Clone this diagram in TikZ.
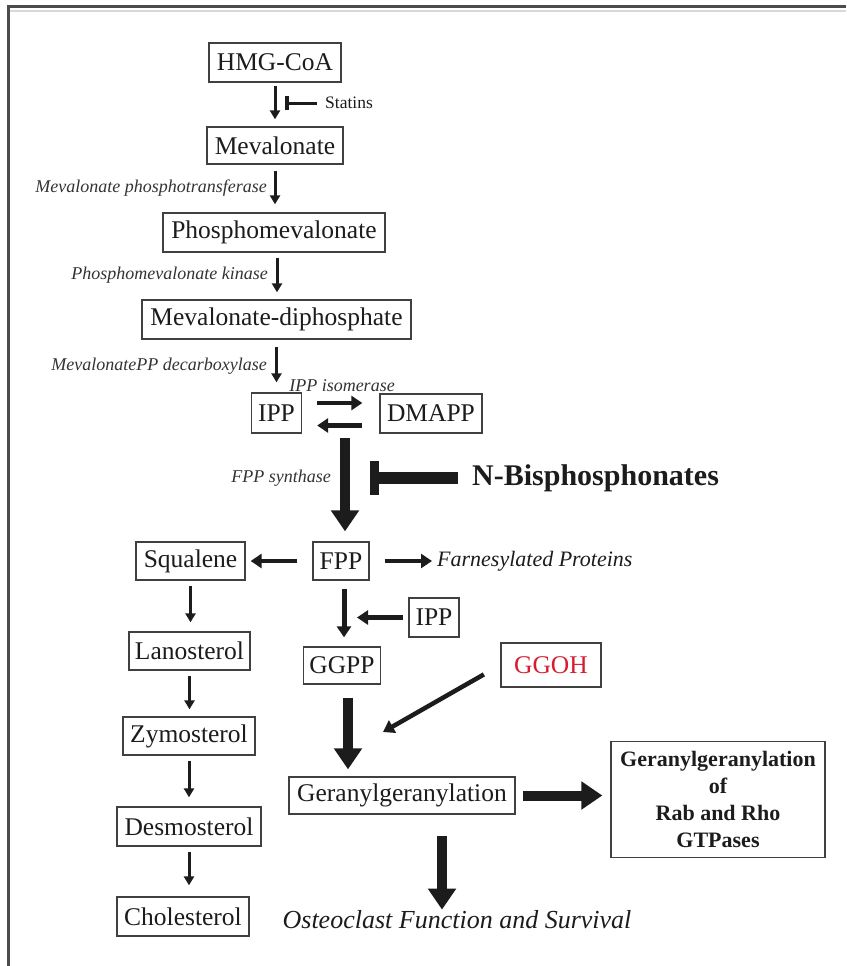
\documentclass[tikz,border=0pt]{standalone}
\usepackage{fontspec}
\setmainfont{Liberation Serif}
\usetikzlibrary{arrows.meta}
\definecolor{ggred}{RGB}{214,28,48}
\definecolor{ink}{RGB}{28,28,28}
\begin{document}
\begin{tikzpicture}[x=1pt,y=-1pt,
  box/.style={draw=black!75, line width=1.3pt, inner sep=2pt, text=ink, font=\fontsize{25.5}{30}\selectfont},
  enz/.style={inner sep=1pt, text=black!80, font=\fontsize{18}{22}\selectfont\itshape},
  arrS/.style={line width=3pt, draw=ink, -{Triangle[length=9pt,width=10pt]}},
  arrM/.style={line width=4.8pt, draw=ink, -{Triangle[length=11pt,width=14pt]}},
  arrL/.style={line width=10pt, draw=ink, -{Triangle[length=21pt,width=27pt]}},
  inhib/.style={draw=ink},
]
\useasboundingbox (0,0) rectangle (846,966);
% frame
\draw[line width=2pt, black!15] (10,11) -- (846,11);
\draw[line width=3pt, black!70] (8,966) -- (8,7) -- (846,7);

% main pathway boxes
\node[box, minimum width=132pt, minimum height=39pt] (hmg) at (275,62.5) {HMG-CoA};
\node[box, minimum width=136pt, minimum height=37pt] (mev) at (275,145.5) {Mevalonate};
\node[box, minimum width=222pt, minimum height=39pt] (pmev) at (274,232.5) {Phosphomevalonate};
\node[box, minimum width=269pt, minimum height=39pt] (mdp) at (276.5,319.5) {Mevalonate-diphosphate};
\node[box, minimum width=50pt, minimum height=40pt] (ipp) at (276.5,413) {IPP};
\node[box, minimum width=102pt, minimum height=39pt] (dmapp) at (431,413.5) {DMAPP};
\node[box, minimum width=109pt, minimum height=38pt] (squal) at (190.5,561) {Squalene};
\node[box, minimum width=56pt, minimum height=38pt] (fpp) at (341,561) {FPP};
\node[box, minimum width=121pt, minimum height=38pt] (lano) at (189.5,651) {Lanosterol};
\node[box, minimum width=50pt, minimum height=39pt] (ipp2) at (434,617.5) {IPP};
\node[box, minimum width=77pt, minimum height=37pt] (ggpp) at (342,665.5) {GGPP};
\node[box, minimum width=100pt, minimum height=44pt, text=ggred] (ggoh) at (551,665) {GGOH};
\node[box, minimum width=132pt, minimum height=38pt] (zymo) at (189,736) {Zymosterol};
\node[box, minimum width=144pt, minimum height=39pt] (desmo) at (189,826.5) {Desmosterol};
\node[box, minimum width=132pt, minimum height=39pt] (chol) at (183,916.5) {Cholesterol};
\node[box, minimum width=226pt, minimum height=37pt] (gg) at (402,795.5) {Geranylgeranylation};
\node[box, minimum width=214pt, minimum height=116pt, align=center,
      font=\fontsize{22}{27}\selectfont\bfseries] (rb) at (718,799.5)
      {Geranylgeranylation\\of\\Rab and Rho\\GTPases};

% free texts
\node[inner sep=0pt, text=ink, font=\fontsize{26}{30}\selectfont\itshape] (ost) at (457,920) {Osteoclast Function and Survival};
\node[anchor=west, inner sep=2pt, text=ink, font=\fontsize{22}{26}\selectfont\itshape] (farn) at (435,561) {Farnesylated Proteins};
\node[anchor=west, inner sep=0pt, text=ink, font=\fontsize{17.5}{20}\selectfont] (stat) at (325,103) {Statins};
\node[anchor=west, inner sep=0pt, text=ink, font=\fontsize{30}{34}\selectfont\bfseries] (nb) at (472,478) {N-Bisphosphonates};

% enzyme labels
\node[enz, anchor=east] (e1) at (268,188) {Mevalonate phosphotransferase};
\node[enz, anchor=east] (e2) at (269,275) {Phosphomevalonate kinase};
\node[enz, anchor=east] (e3) at (268,366) {MevalonatePP decarboxylase};
\node[enz] (e4) at (342,386) {IPP isomerase};
\node[enz, anchor=east] (e5) at (332,478) {FPP synthase};

% spine arrows
\draw[arrS, shorten <=3pt, shorten >=7pt] (hmg.south) -- (hmg.south |- mev.north);
\draw[arrS, shorten <=6pt, shorten >=8pt] (mev.south) -- (mev.south |- pmev.north);
\draw[arrS, shorten <=5pt, shorten >=7pt] ([xshift=3pt]pmev.south) -- ([xshift=3pt]pmev.south |- mdp.north);
\draw[arrS, shorten <=7pt, shorten >=10pt] (mdp.south) -- (mdp.south |- ipp.north);

% statins inhibition
\coordinate (statbar) at (287,103);
\draw[inhib, line width=3pt, shorten <=8pt] (stat.west) -- (statbar);
\draw[inhib, line width=3.5pt] ([yshift=7pt]statbar) -- ([yshift=-7pt]statbar);

% isomerase arrows
\draw[arrM, shorten <=15pt, shorten >=17pt] ([yshift=10pt]ipp.east) -- ([yshift=10pt]ipp.east -| dmapp.west);
\draw[arrM, shorten <=17pt, shorten >=15pt] ([yshift=-12pt]dmapp.west) -- ([yshift=-12pt]dmapp.west -| ipp.east);

% FPP synthase
\coordinate (bt) at (345,438);
\draw[arrL, shorten >=10pt] (bt) -- (bt |- fpp.north);

% N-bisphosphonates inhibition
\coordinate (nbbar) at (374.5,478);
\draw[inhib, line width=12pt, shorten <=14pt] (nb.west) -- (nbbar);
\fill[ink] ([xshift=-4.5pt,yshift=17pt]nbbar) rectangle ([xshift=4.5pt,yshift=-17pt]nbbar);

% FPP branches
\draw[arrM, shorten <=15pt, shorten >=5pt] (fpp.west) -- (fpp.west -| squal.east);
\draw[arrM, shorten <=15pt, shorten >=3pt] (fpp.east) -- (farn.west);
\draw[arrM, line width=5pt, shorten <=8pt, shorten >=9pt] ([xshift=3pt]fpp.south) -- ([xshift=3pt]fpp.south |- ggpp.north);
\coordinate (j2) at (357,617.5);
\draw[arrM, shorten <=5pt] (ipp2.west) -- (j2);

% sterol column
\draw[arrS, shorten <=5pt, shorten >=9pt] (squal.south) -- (squal.south |- lano.north);
\draw[arrS, shorten <=5pt, shorten >=7pt] (lano.south) -- (lano.south |- zymo.north);
\draw[arrS, shorten <=5pt, shorten >=9pt] (zymo.south) -- (zymo.south |- desmo.north);
\draw[arrS, shorten <=5pt, shorten >=11pt] (desmo.south) -- (desmo.south |- chol.north);

% GGOH
\coordinate (gt) at (383,732);
\draw[arrM, line width=4.5pt, shorten <=19pt] (ggoh.west) -- (gt);

% lower big arrows
\draw[arrL, shorten <=13pt, shorten >=7pt] ([xshift=6pt]ggpp.south) -- ([xshift=6pt]ggpp.south |- gg.north);
\draw[arrL, shorten <=7pt, shorten >=8pt] (gg.east) -- (gg.east -| rb.west);
\draw[arrL, shorten <=21pt, shorten >=1pt] ([xshift=40pt]gg.south) -- ([xshift=40pt]gg.south |- ost.north);
\end{tikzpicture}
\end{document}
